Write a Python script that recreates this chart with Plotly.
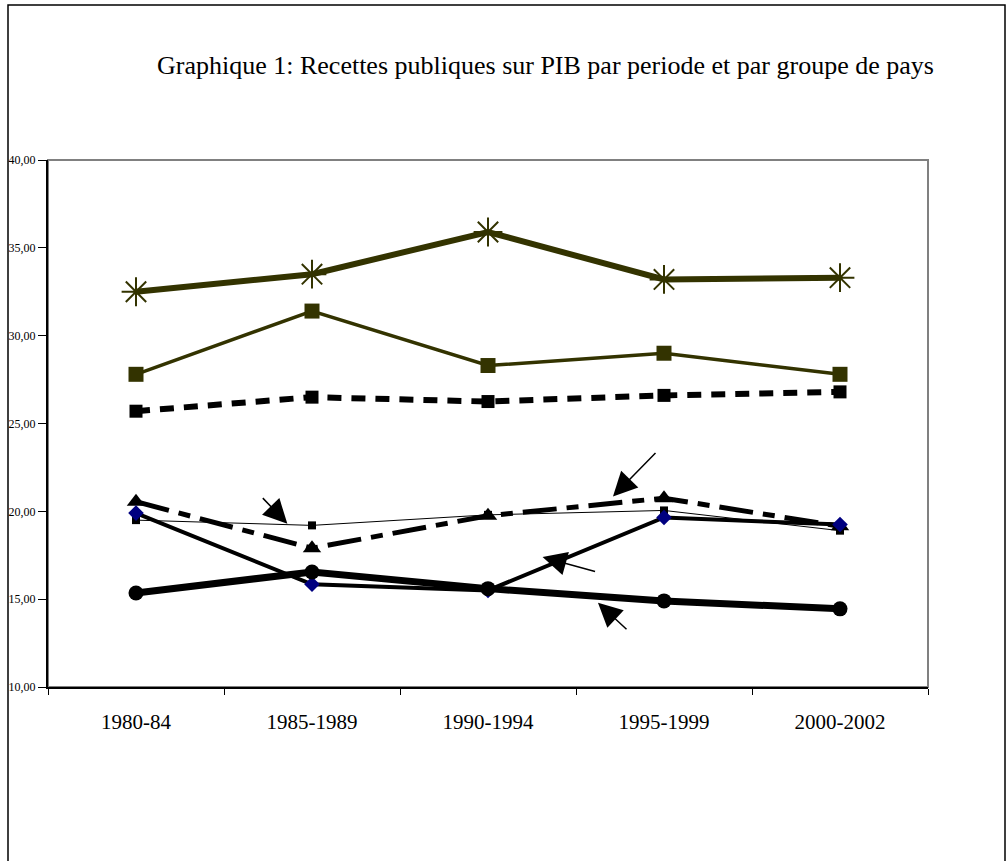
import plotly.graph_objects as go

periods = ["1980-84", "1985-1989", "1990-1994", "1995-1999", "2000-2002"]

s_star = [32.5, 33.5, 35.9, 33.2, 33.3]
s_square = [27.8, 31.4, 28.3, 29.0, 27.8]
s_dotted = [25.7, 26.5, 26.25, 26.6, 26.8]
s_thin = [19.5, 19.2, 19.8, 20.05, 18.9]
s_dashdot = [20.55, 17.9, 19.75, 20.75, 19.15]
s_diamond = [19.9, 15.85, 15.5, 19.65, 19.25]
s_circle = [15.35, 16.55, 15.6, 14.9, 14.45]

y_ticks = [10, 15, 20, 25, 30, 35, 40]
y_tick_text = ["10,00", "15,00", "20,00", "25,00", "30,00", "35,00", "40,00"]

title_text = "Graphique 1: Recettes publiques sur PIB par periode et par groupe de pays"

OLIVE = "#333300"
W, H = 1007, 861
L, T, R, B = 48, 160, 928, 687
PW, PH = R - L, B - T

fig = go.Figure()

fig.add_trace(go.Scatter(x=periods, y=s_thin, mode="lines+markers",
                         line=dict(color="black", width=1),
                         marker=dict(symbol="square", size=8, color="black")))
fig.add_trace(go.Scatter(x=periods, y=s_dashdot, mode="lines+markers",
                         line=dict(color="black", width=5, dash="34px,10px,12px,10px"),
                         marker=dict(symbol="triangle-up", size=16, color="black")))
fig.add_trace(go.Scatter(x=periods, y=s_diamond, mode="lines+markers",
                         line=dict(color="black", width=4),
                         marker=dict(symbol="diamond", size=12, color="#000080")))
fig.add_trace(go.Scatter(x=periods, y=s_circle, mode="lines+markers",
                         line=dict(color="black", width=7),
                         marker=dict(symbol="circle", size=15, color="black")))
fig.add_trace(go.Scatter(x=periods, y=s_dotted, mode="lines+markers",
                         line=dict(color="black", width=6, dash="14px,10px"),
                         marker=dict(symbol="square", size=13, color="black")))
fig.add_trace(go.Scatter(x=periods, y=s_square, mode="lines+markers",
                         line=dict(color=OLIVE, width=3.5),
                         marker=dict(symbol="square", size=15, color=OLIVE)))
fig.add_trace(go.Scatter(x=periods, y=s_star, mode="lines+markers",
                         line=dict(color=OLIVE, width=6),
                         marker=dict(symbol="asterisk-open", size=24, color=OLIVE,
                                     line=dict(color=OLIVE, width=2))))

# arrows (head position in axis units, tail offset in pixels)
arrows = [
    (0.86, 19.3, -26, -27),
    (2.71, 20.85, 44, -45),
    (2.31, 17.4, 54, 15),
    (2.625, 14.8, 30, 28),
]
for ax_x, ax_y, dx, dy in arrows:
    fig.add_annotation(x=ax_x, y=ax_y, xref="x", yref="y", ax=dx, ay=dy,
                       axref="pixel", ayref="pixel", showarrow=True, text="",
                       arrowhead=2, arrowsize=3.2, arrowwidth=1.5, arrowcolor="black")

fig.add_annotation(text=title_text, xref="paper", yref="paper",
                   x=(545 - L) / PW, y=(B - 65) / PH, showarrow=False,
                   font=dict(family="Liberation Serif", size=26, color="black"),
                   xanchor="center", yanchor="middle")

# plot area border (grey) and outer frame
fig.add_shape(type="rect", xref="paper", yref="paper", x0=0, x1=1, y0=0, y1=1,
              line=dict(color="#808080", width=2), layer="below")
fig.add_shape(type="rect", xref="paper", yref="paper",
              x0=(8 - L) / PW, x1=(1005 - L) / PW,
              y0=(B - 880) / PH, y1=(B - 5) / PH,
              line=dict(color="black", width=1.5))

fig.update_layout(
    width=W, height=H,
    margin=dict(l=L, r=W - R, t=T, b=H - B),
    paper_bgcolor="white", plot_bgcolor="white",
    showlegend=False,
    font=dict(family="Liberation Serif", color="black"),
)
fig.update_xaxes(type="category", range=[-0.5, 4.5], showgrid=False, automargin=False,
                 showline=True, linecolor="black", linewidth=2,
                 ticks="outside", ticklen=6, tickcolor="black", tickson="boundaries",
                 tickfont=dict(family="Liberation Serif", size=21, color="black"),
                 ticklabelstandoff=15)
fig.update_yaxes(range=[10, 40], tickvals=y_ticks, ticktext=y_tick_text,
                 showgrid=False, zeroline=False, automargin=False,
                 showline=True, linecolor="black", linewidth=2,
                 ticks="outside", ticklen=8, tickcolor="black",
                 tickfont=dict(family="Liberation Serif", size=12, color="black"))

fig.write_html("out.html", config={"displayModeBar": False},
               post_script="document.body.style.margin='0';")
